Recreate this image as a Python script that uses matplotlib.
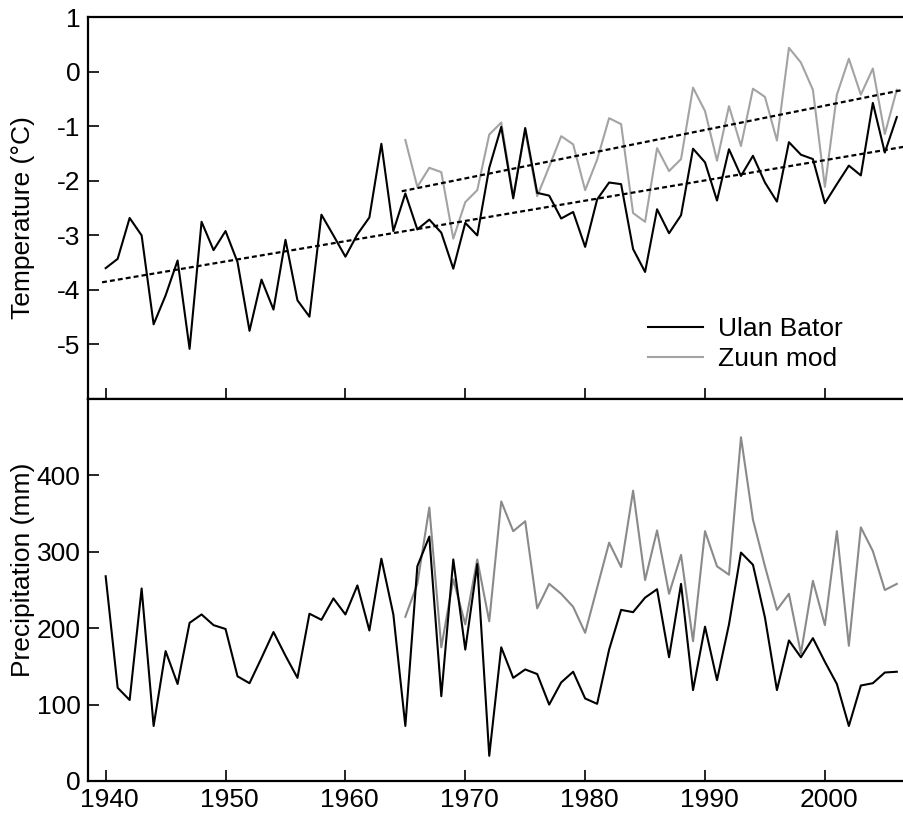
import matplotlib
matplotlib.use("Agg")
import matplotlib.pyplot as plt
import matplotlib.transforms as mtransforms

plt.rcParams["font.family"] = ["Liberation Sans", "DejaVu Sans"]
plt.rcParams["axes.unicode_minus"] = False

# ── Data ───────────────────────────────────────────────────────────────────
ub_years = list(range(1940, 2007))
ub_temp = [-3.60, -3.43, -2.68, -3.00, -4.63, -4.10, -3.46, -5.08, -2.75, -3.27,
           -2.92, -3.49, -4.75, -3.81, -4.36, -3.08, -4.19, -4.49, -2.62, -3.00,
           -3.39, -2.98, -2.67, -1.32, -2.92, -2.23, -2.89, -2.71, -2.95, -3.61,
           -2.77, -3.00, -1.76, -1.01, -2.32, -1.03, -2.22, -2.27, -2.69, -2.57,
           -3.21, -2.34, -2.03, -2.06, -3.25, -3.67, -2.52, -2.96, -2.63, -1.41,
           -1.66, -2.36, -1.42, -1.91, -1.54, -2.03, -2.38, -1.29, -1.52, -1.60,
           -2.41, -2.06, -1.72, -1.90, -0.57, -1.48, -0.83]
ub_precip = [268, 122, 106, 252, 72, 170, 127, 207, 218, 204,
             199, 137, 128, 161, 195, 164, 135, 219, 211, 239,
             218, 256, 197, 291, 218, 72, 281, 320, 111, 290,
             172, 284, 33, 175, 135, 146, 140, 100, 129, 143,
             108, 101, 172, 224, 221, 240, 251, 162, 258, 119,
             202, 132, 205, 299, 283, 214, 119, 184, 162, 187,
             156, 127, 72, 125, 128, 142, 143]

zm_years = list(range(1965, 2007))
zm_temp = [-1.25, -2.11, -1.76, -1.84, -3.06, -2.39, -2.17, -1.15, -0.93, -2.28,
           -1.08, -2.28, -1.74, -1.18, -1.33, -2.17, -1.61, -0.85, -0.96, -2.59,
           -2.75, -1.40, -1.82, -1.60, -0.29, -0.72, -1.63, -0.63, -1.36, -0.31,
           -0.46, -1.26, 0.44, 0.17, -0.33, -2.11, -0.42, 0.24, -0.42, 0.06,
           -1.14, -0.33]
zm_precip = [215, 258, 358, 175, 264, 205, 290, 209, 366, 327,
             340, 226, 258, 245, 228, 194, 253, 312, 280, 380,
             263, 328, 245, 296, 183, 327, 281, 270, 450, 342,
             281, 224, 245, 167, 262, 204, 327, 177, 332, 301,
             250, 258]

# linear trend endpoints
ub_trend_x = [1939.7, 2007.0]
ub_trend_y = [-3.86, -1.36]
zm_trend_x = [1964.7, 2007.0]
zm_trend_y = [-2.19, -0.31]

BLACK = "#000000"
GRAY_T = "#a3a3a3"
GRAY_P = "#8a8a8a"
FS = 19

fig = plt.figure(figsize=(9.04, 8.19), dpi=100)
ax1 = fig.add_axes([0.097, 0.5128, 0.903, 0.4661])
ax2 = fig.add_axes([0.097, 0.0464, 0.903, 0.4664])

for ax in (ax1, ax2):
    ax.set_xlim(1938.5, 2006.6)
    ax.spines["right"].set_visible(False)
    for s in ("left", "top", "bottom"):
        ax.spines[s].set_linewidth(1.6)
    ax.tick_params(direction="in", length=8, width=1.2, labelsize=FS,
                   right=False, top=False, pad=5)
    ax.set_xticks(range(1940, 2001, 10))

# ── Temperature panel ──────────────────────────────────────────────────────
ax1.plot(ub_years, ub_temp, color=BLACK, lw=1.5, label="Ulan Bator", zorder=3)
ax1.plot(zm_years, zm_temp, color=GRAY_T, lw=1.5, label="Zuun mod", zorder=2)
ax1.plot(ub_trend_x, ub_trend_y, color=BLACK, lw=1.6, ls=(0, (2.2, 1.4)), zorder=4)
ax1.plot(zm_trend_x, zm_trend_y, color=BLACK, lw=1.6, ls=(0, (2.2, 1.4)), zorder=4)
ax1.set_ylim(-6, 1)
ax1.set_yticks(range(-5, 2))
ax1.tick_params(axis="x", labelbottom=False)
ax1.set_ylabel("Temperature (°C)", fontsize=FS)
ax1.yaxis.set_label_coords(-0.065, 0.476)
ax1.legend(loc="lower left", bbox_to_anchor=(0.686, 0.073), frameon=False,
           fontsize=FS, handlelength=2.1, handletextpad=0.55, labelspacing=0.22,
           borderpad=0, borderaxespad=0)

# ── Precipitation panel ────────────────────────────────────────────────────
ax2.plot(ub_years, ub_precip, color=BLACK, lw=1.5, zorder=3)
ax2.plot(zm_years, zm_precip, color=GRAY_P, lw=1.5, zorder=2)
ax2.set_ylim(0, 500)
ax2.set_yticks(range(0, 401, 100))
ax2.set_ylabel("Precipitation (mm)", fontsize=FS)
ax2.yaxis.set_label_coords(-0.065, 0.554)

# x labels sit slightly right of their ticks in the original
offset = mtransforms.ScaledTranslation(4 / 100, 0, fig.dpi_scale_trans)
for lab in ax2.get_xticklabels():
    lab.set_transform(lab.get_transform() + offset)

fig.savefig("out.png", dpi=100)
